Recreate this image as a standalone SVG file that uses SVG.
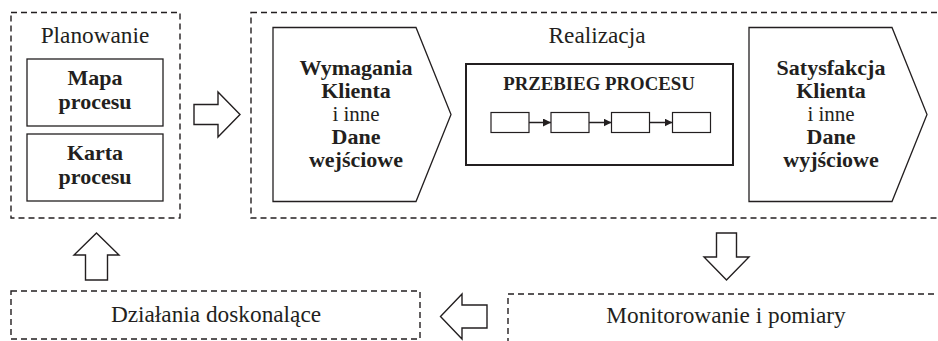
<svg xmlns="http://www.w3.org/2000/svg" width="938" height="341" viewBox="0 0 938 341">
  <style>
    .bg { fill: #ffffff; }
    .dash { fill: none; stroke: #231f20; stroke-width: 1.4; stroke-dasharray: 6 4; }
    .box { fill: #ffffff; stroke: #231f20; stroke-width: 1.3; }
    .thick { fill: #ffffff; stroke: #231f20; stroke-width: 2; }
    .blk { fill: #ffffff; stroke: #231f20; stroke-width: 1.4; stroke-linejoin: miter; }
    .step { fill: #ffffff; stroke: #231f20; stroke-width: 1.2; }
    .link { fill: none; stroke: #231f20; stroke-width: 1.5; }
    text { font-family: "Liberation Serif", "Times New Roman", serif; fill: #231f20; text-anchor: middle; }
    .lbl { font-size: 23.3px; }
    .b { font-size: 22px; font-weight: bold; }
    .r { font-size: 21px; }
    .hdr { font-size: 18.8px; font-weight: bold; }
  </style>
  <defs>
    <marker id="tri" viewBox="0 0 8 8" refX="8" refY="4" markerWidth="8" markerHeight="8" markerUnits="userSpaceOnUse" orient="auto">
      <path d="M0,0 L8,4 L0,8 Z" fill="#231f20"/>
    </marker>
  </defs>
  <rect class="bg" x="0" y="0" width="938" height="341"/>

  <!-- planning stage -->
  <g id="planowanie">
    <rect class="dash" x="11" y="12.5" width="169" height="205.5"/>
    <text class="lbl" x="95" y="43">Planowanie</text>
  </g>
  <g id="mapa-procesu">
    <rect class="box" x="27" y="59" width="136" height="67"/>
    <text class="b" x="95" y="85">Mapa</text>
    <text class="b" x="95" y="108.5">procesu</text>
  </g>
  <g id="karta-procesu">
    <rect class="box" x="27" y="134" width="136" height="67"/>
    <text class="b" x="95" y="160">Karta</text>
    <text class="b" x="95" y="183.5">procesu</text>
  </g>

  <!-- realization stage (box runs off the right edge) -->
  <g id="realizacja">
    <rect class="dash" x="251" y="12.5" width="700" height="205.5"/>
    <text class="lbl" x="597" y="43">Realizacja</text>
  </g>
  <g id="dane-wejsciowe">
    <polygon class="box" points="273,27.5 416,27.5 451,114.5 416,201.5 273,201.5"/>
    <text class="b" x="356" y="75">Wymagania</text>
    <text class="b" x="356" y="98">Klienta</text>
    <text class="r" x="356" y="120.5">i inne</text>
    <text class="b" x="356" y="143.5">Dane</text>
    <text class="b" x="356" y="166.5">wejściowe</text>
  </g>
  <g id="przebieg-procesu">
    <rect class="thick" x="466" y="64" width="267" height="101"/>
    <text class="hdr" x="599" y="90">PRZEBIEG PROCESU</text>
    <rect class="step" x="491" y="112.5" width="38" height="20"/>
    <rect class="step" x="551" y="112.5" width="38" height="20"/>
    <rect class="step" x="611.5" y="112.5" width="38" height="20"/>
    <rect class="step" x="672.5" y="112.5" width="38" height="20"/>
  </g>
  <g id="dane-wyjsciowe">
    <polygon class="box" points="749,27.5 892,27.5 927,114.5 892,201.5 749,201.5"/>
    <text class="b" x="831" y="75">Satysfakcja</text>
    <text class="b" x="831" y="98">Klienta</text>
    <text class="r" x="831" y="120.5">i inne</text>
    <text class="b" x="831" y="143.5">Dane</text>
    <text class="b" x="831" y="166.5">wyjściowe</text>
  </g>

  <!-- checking and improvement stages -->
  <g id="monitorowanie">
    <rect class="dash" x="508" y="294" width="440" height="60"/>
    <text class="lbl" x="726" y="323">Monitorowanie i pomiary</text>
  </g>
  <g id="dzialania">
    <rect class="dash" x="11" y="291" width="409" height="48"/>
    <text class="lbl" x="216" y="322">Działania doskonalące</text>
  </g>

  <!-- connectors -->
  <g id="connectors">
    <line class="link" x1="529" y1="122.5" x2="551" y2="122.5" marker-end="url(#tri)"/>
    <line class="link" x1="589" y1="122.5" x2="611.5" y2="122.5" marker-end="url(#tri)"/>
    <line class="link" x1="649.5" y1="122.5" x2="672.5" y2="122.5" marker-end="url(#tri)"/>
    <polygon class="blk" points="194,104.5 218,104.5 218,92 240,114.5 218,137 218,124.5 194,124.5"/>
    <polygon class="blk" points="716.5,233 736.5,233 736.5,257 749,257 726.5,280 704,257 716.5,257"/>
    <polygon class="blk" points="487,305 487,328 462,328 462,339 440.5,316.5 462,294 462,305"/>
    <polygon class="blk" points="96.5,233 119,255 107.5,255 107.5,280 85.5,280 85.5,255 74,255"/>
  </g>
</svg>
